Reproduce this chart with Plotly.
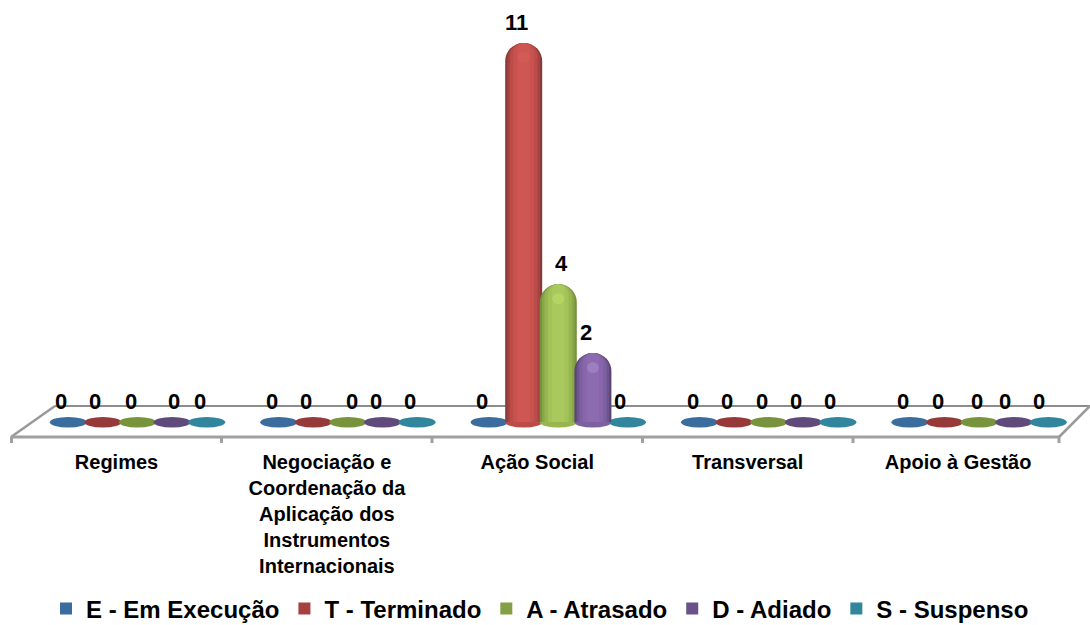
import plotly.graph_objects as go

categories = ["Regimes",
              "Negociação e<br>Coordenação da<br>Aplicação dos<br>Instrumentos<br>Internacionais",
              "Ação Social", "Transversal", "Apoio à Gestão"]
series_names = ["E - Em Execução", "T - Terminado", "A - Atrasado", "D - Adiado", "S - Suspenso"]
em_execucao = [0, 0, 0, 0, 0]
terminado = [0, 0, 11, 0, 0]
atrasado = [0, 0, 4, 0, 0]
adiado = [0, 0, 2, 0, 0]
suspenso = [0, 0, 0, 0, 0]
series_values = [em_execucao, terminado, atrasado, adiado, suspenso]

# styles
W, H = 1090, 625
PLOT_BOTTOM = 437
UNIT_PX = 210.4
VALUE_PX = 34.45
ZERO_PX = 422
CENTER0_PX = 137.5
x_range = [(0 - CENTER0_PX) / UNIT_PX, (W - CENTER0_PX) / UNIT_PX]
y_range = [(ZERO_PX - PLOT_BOTTOM) / VALUE_PX, ZERO_PX / VALUE_PX]
SPACING = 34.6 / UNIT_PX
BAR_W = 37 / UNIT_PX

flat_colors = ["#3B6C9E", "#953A38", "#77933C", "#604A7B", "#31859C"]
shades = [
    ["#2F5580", "#3B6C9E", "#4679B0", "#4F81BD", "#5590C8"],
    ["#8A3A38", "#A54543", "#BC4C4A", "#C9524F", "#CE5754"],
    ["#76923C", "#8AA748", "#97B64F", "#A3C25A", "#A9C85E"],
    ["#5A4673", "#6F5590", "#7C60A0", "#8766AB", "#8C6BB0"],
    ["#276E82", "#31859C", "#3A98B0", "#42A3BC", "#48ABC4"],
]
legend_colors = ["#3B6C9E", "#A5403E", "#83A044", "#6A5189", "#31859C"]
highlight = ["#7FB0E0", "#D9625F", "#C8E56F", "#B69BD8", "#70C8DE"]
layer_fracs = [1.0, 0.88, 0.74, 0.56, 0.34]
# small horizontal nudges of the value labels, as they sit in the source picture
label_nudge = [
    [-7, -8, -7, 2, -7],
    [-7, -7, 4, -7, -7],
    [-7, -7, 3, -7, -8],
    [-7, -7, -7, -7, -8],
    [-7, -7, -2, -9, -9],
]


def px(x):
    return x / W


def py(y):
    return (PLOT_BOTTOM - y) / PLOT_BOTTOM


fig = go.Figure()
annotations = []
shapes = []

# Floor of the pseudo 3D chart
floor_lines = [
    (55, 406, 1090, 406, "#8C8C8C", 2),
    (11, 437, 55, 406, "#9A9A9A", 2.5),
    (1059, 437, 1090, 406, "#9A9A9A", 2.5),
    (11, 437, 1059, 437, "#A0A0A0", 3),
]
for tick_x in [11.5, 221.5, 432, 642.5, 853, 1059]:
    floor_lines.append((tick_x, 437, tick_x, 443, "#A0A0A0", 3))
for x0, y0, x1, y1, c, w in floor_lines:
    shapes.append(dict(type="line", xref="paper", yref="paper", x0=px(x0), x1=px(x1),
                       y0=py(y0), y1=py(y1), line=dict(color=c, width=w), layer="below"))

for s, (name, vals) in enumerate(zip(series_names, series_values)):
    xs = [i + (s - 2) * SPACING for i in range(len(categories))]
    # square legend key for the series
    fig.add_trace(go.Bar(x=[None], y=[None], name=name, legendgroup=name, showlegend=True,
                         marker=dict(color=legend_colors[s], line_width=0)))
    for k, frac in enumerate(layer_fracs):
        fig.add_trace(go.Bar(
            x=xs, y=vals, width=BAR_W * frac, name=name,
            legendgroup=name, showlegend=False,
            marker=dict(color=shades[s][k], line_width=0, cornerradius="50%"),
            hoverinfo="skip" if k else None,
        ))
    for i, (x, v) in enumerate(zip(xs, vals)):
        col = shades[s][2] if v else flat_colors[s]
        shapes.append(dict(type="circle", xref="x", yref="y", xsizemode="pixel", ysizemode="pixel",
                           xanchor=x, yanchor=0, x0=-18.5, x1=18.5, y0=-5.5, y1=5.0,
                           fillcolor=col, line_width=0, layer="below"))
        if v:
            shapes.append(dict(type="circle", xref="x", yref="y", xsizemode="pixel", ysizemode="pixel",
                               xanchor=x, yanchor=v, x0=-6, x1=6, y0=-20, y1=-9,
                               fillcolor=highlight[s], line_width=0, opacity=0.4, layer="above"))
        annotations.append(dict(x=x, y=v, text=str(v), showarrow=False, xanchor="center", yanchor="middle",
                                xshift=label_nudge[i][s], yshift=21,
                                font=dict(family="Liberation Sans", size=22, color="#000000", weight="bold")))

fig.update_layout(
    width=W, height=H, autosize=False,
    margin=dict(l=0, r=0, t=0, b=H - PLOT_BOTTOM),
    paper_bgcolor="white", plot_bgcolor="rgba(0,0,0,0)",
    barmode="overlay",
    font=dict(family="Liberation Sans", color="#000000"),
    shapes=shapes, annotations=annotations,
    xaxis=dict(range=x_range, tickmode="array", tickvals=list(range(len(categories))), ticktext=categories,
               showgrid=False, zeroline=False, showline=False, ticks="", ticklabelshift=-21,
               ticklabelstandoff=11, tickangle=0,
               tickfont=dict(family="Liberation Sans", size=20, color="#000000", weight="bold")),
    yaxis=dict(range=y_range, visible=False, showgrid=False, zeroline=False),
    legend=dict(orientation="h", x=46 / W, xanchor="left", xref="container",
                y=(H - 609) / H, yref="container", yanchor="middle",
                itemwidth=30, traceorder="normal",
                font=dict(family="Liberation Sans", size=24, color="#000000", weight="bold")),
)

fig.write_html("out.html", config={"displayModeBar": False},
               post_script="document.body.style.margin='0';")
